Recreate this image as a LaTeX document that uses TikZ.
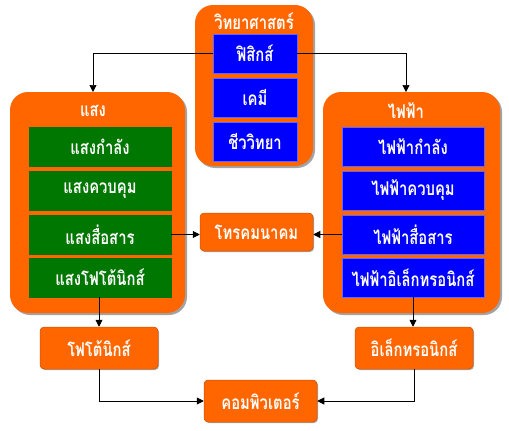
\documentclass[tikz,border=0pt]{standalone}
\usepackage{fontspec}
\newfontfamily\thaifont[Script=Thai,FakeStretch=0.78]{Loma}
\usetikzlibrary{arrows.meta,shadows}
\definecolor{orng}{HTML}{FF6600}
\definecolor{grn}{HTML}{007700}
\definecolor{blu}{HTML}{0000FF}
\tikzset{
  container/.style={fill=orng,rounded corners=18pt,draw=none,
    drop shadow={shadow xshift=2pt,shadow yshift=-2pt,fill=black!45,opacity=0.8}},
  ttl/.style={text=white,inner sep=0pt,font=\thaifont\bfseries\fontsize{19}{21}\selectfont},
  gbox/.style={fill=grn,draw=green!45!black,line width=0.6pt},
  bbox/.style={fill=blu,draw=blue!60!white,line width=0.6pt},
  obox/.style={fill=orng,draw=orng!80!black,line width=0.5pt,rounded corners=4pt,text=white,
    font=\thaifont\bfseries\fontsize{19}{21}\selectfont,
    drop shadow={shadow xshift=1pt,shadow yshift=-1pt,fill=black!40,opacity=0.8}},
  conn/.style={draw=black,line width=0.7pt,-{Triangle[length=7pt,width=7pt]}}
}
\begin{document}
\begin{tikzpicture}[x=1pt,y=-1pt]
\useasboundingbox (0,0) rectangle (509,431);
% containers
\path[container] (195,5) rectangle (313,166);
\path[container] (10,92) rectangle (185,313);
\path[container] (323,92) rectangle (500,313);
\node[ttl] (sciT) at (254,21) {วิทยาศาสตร์};
\node[ttl] (lightT) at (93,111) {แสง};
\node[ttl] (elecT) at (406,111) {ไฟฟ้า};
% science boxes
\path[bbox] (213,34) rectangle (297,73);
\node[ttl] (phys) at (255,53.5) {ฟิสิกส์};
\path[bbox] (213,78) rectangle (297,117);
\node[ttl] (chem) at (255,97.5) {เคมี};
\path[bbox] (213,122) rectangle (297,161);
\node[ttl] (bio) at (255,141.5) {ชีววิทยา};
\coordinate (physL) at (213,53.5);
\coordinate (physR) at (297,53.5);
% light boxes
\path[gbox] (29,127) rectangle (171,166);
\node[ttl] (l1) at (100,146.5) {แสงกำลัง};
\path[gbox] (29,171) rectangle (171,210);
\node[ttl] (l2) at (100,190.5) {แสงควบคุม};
\path[gbox] (29,215) rectangle (171,254);
\node[ttl] (l3) at (100,234.5) {แสงสื่อสาร};
\path[gbox] (29,258) rectangle (171,297);
\node[ttl] (l4) at (100,277.5) {แสงโฟโต้นิกส์};
\coordinate (l3R) at (171,234.5);
\coordinate (l4B) at (99,297);
% electric boxes
\path[bbox] (342,127) rectangle (484,166);
\node[ttl] (e1) at (413,146.5) {ไฟฟ้ากำลัง};
\path[bbox] (342,171) rectangle (484,210);
\node[ttl] (e2) at (413,190.5) {ไฟฟ้าควบคุม};
\path[bbox] (342,215) rectangle (484,254);
\node[ttl] (e3) at (413,234.5) {ไฟฟ้าสื่อสาร};
\path[bbox] (342,258) rectangle (484,297);
\node[ttl] (e4) at (413,277.5) {ไฟฟ้าอิเล็กทรอนิกส์};
\coordinate (e3L) at (342,234.5);
\coordinate (e4B) at (413,297);
% orange boxes
\node[obox,minimum width=113pt,minimum height=38pt,inner sep=0pt] (tel) at (256.5,232) {โทรคมนาคม};
\node[obox,minimum width=118pt,minimum height=42pt,inner sep=0pt] (pho) at (99,348) {โฟโต้นิกส์};
\node[obox,minimum width=118pt,minimum height=42pt,inner sep=0pt] (ele) at (414,348) {อิเล็กทรอนิกส์};
\node[obox,minimum width=113pt,minimum height=42pt,inner sep=0pt] (comp) at (260.5,401) {คอมพิวเตอร์};
\coordinate (lightTop) at (93,92);
\coordinate (elecTop) at (406,92);
% connectors
\draw[conn] (physL) -| (lightTop);
\draw[conn] (physR) -| (elecTop);
\draw[conn] (l3R) -- (tel.west |- l3R);
\draw[conn] (e3L) -- (tel.east |- e3L);
\draw[conn] (l4B) -- (pho.north);
\draw[conn] (e4B) -- (ele.north -| e4B);
\draw[conn] (pho.south) |- (comp.west);
\draw[conn] (ele.south) |- (comp.east);
\end{tikzpicture}
\end{document}
